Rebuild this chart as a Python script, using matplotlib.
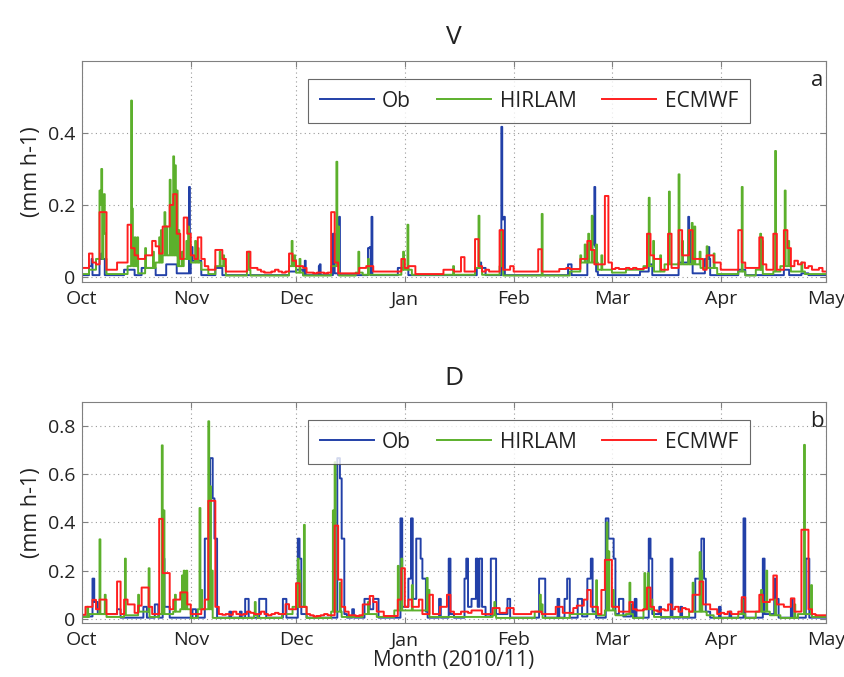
"""Two-panel precipitation series, Oct 2010 - May 2011: observations vs HIRLAM and ECMWF."""

import matplotlib
matplotlib.use("Agg")
import matplotlib.pyplot as plt
import numpy as np

plt.rcParams["font.family"] = ["Open Sans", "DejaVu Sans"]

N_DAYS = 212
STEP = 0.25  # 6-hourly

month_days = [0, 31, 61, 92, 123, 151, 182, 212]
month_labels = ["Oct", "Nov", "Dec", "Jan", "Feb", "Mar", "Apr", "May"]

# ---- panel a (V) ----
ecmwf_v = [
    .025, .025, .065, .04, .035, .18, .18, .02, .02, .02,
    .04, .04, .04, .145, .08, .06, .05, .05, .06, .06,
    .10, .085, .065, .14, .14, .20, .23, .12, .05, .165,
    .12, .06, .05, .11, .05, .03, .02, .02, .075, .075,
    .05, .015, .015, .015, .015, .015, .015, .07, .025, .025,
    .02, .015, .012, .012, .015, .02, .015, .012, .015, .065,
    .045, .03, .03, .025, .012, .012, .01, .012, .012, .01,
    .012, .18, .04, .01, .01, .01, .01, .01, .01, .025,
    .025, .03, .03, .015, .015, .015, .015, .015, .015, .015,
    .015, .05, .025, .03, .03, .008, .008, .008, .008, .008,
    .008, .008, .008, .02, .02, .02, .015, .015, .055, .015,
    .015, .015, .105, .03, .015, .02, .015, .015, .015, .13,
    .02, .02, .03, .015, .015, .015, .015, .015, .015, .015,
    .077, .015, .015, .015, .015, .015, .022, .022, .025, .022,
    .022, .022, .05, .05, .10, .075, .035, .035, .035, .225,
    .04, .022, .025, .022, .022, .025, .022, .025, .022, .022,
    .025, .12, .06, .05, .05, .02, .02, .12, .025, .025,
    .13, .06, .06, .13, .05, .05, .05, .02, .06, .06,
    .04, .04, .02, .02, .02, .02, .02, .13, .04, .025,
    .025, .025, .025, .11, .035, .02, .02, .12, .02, .02,
    .13, .08, .03, .045, .035, .04, .025, .03, .02, .02,
    .025, .015,
]

ob_v_levels = [
    (0, .005), (2, .03), (3, .005), (5, .05), (6.5, .005), (12, .02), (15, .005),
    (17, .025), (21, .005), (24, .035), (27, .01), (31, .045), (34, .005),
    (38, .025), (40, .005), (59, .015), (61, .02), (63, .005), (67.5, .03),
    (68, .005), (71.5, .12), (72, .01), (73, .005), (81.5, .08), (82, .005),
    (90, .025), (93, .005), (112.5, .025), (115, .005), (119.5, .16),
    (120.5, .005), (138.5, .035), (139.5, .005), (144, .09), (146, .015),
    (147, .005), (159, .015), (161.5, .035), (162.5, .005), (170, .04),
    (174, .01), (177.5, .05), (179, .005), (187, .02), (189, .005),
    (200, .02), (201.5, .005), (205, .01), (207, .005),
]
ob_v_spikes = [
    (2.8, .05), (5.6, .065), (30.5, .25), (31.2, .083), (63.5, .045),
    (67.8, .035), (73.3, .167), (82.0, .083), (82.5, .167), (113.4, .04),
    (119.6, .417), (120.2, .167), (145.5, .167), (145.9, .25), (146.2, .083),
    (172.7, .167), (173.2, .125), (178.4, .083),
]

hirlam_v_levels = [
    (0, .008), (2, .02), (4, .05), (7, .008), (13, .03), (16, .01), (18, .025),
    (21, .04), (23, .06), (27, .03), (29, .05), (31, .04), (34, .02), (36, .008),
    (38, .03), (41, .004), (47, .02), (48, .004), (59, .03), (61, .012),
    (63, .004), (71, .03), (73, .004), (78, .012), (80, .006), (91, .02),
    (94, .006), (112, .025), (114, .006), (119, .03), (120, .004), (139, .015),
    (142, .04), (147, .02), (151, .012), (155, .02), (160, .03), (163, .015),
    (166, .035), (176, .025), (181, .008), (187, .015), (189, .004), (192, .02),
    (194, .008), (197, .015), (199, .03), (202, .015), (206, .008),
]
hirlam_v_spikes = [
    (4.9, .24), (5.3, .2), (5.6, .30), (6.0, .22), (6.3, .23), (6.6, .12),
    (13.9, .49), (14.3, .19), (15.1, .11), (15.8, .11), (18.0, .08),
    (20.3, .07), (22.0, .11), (22.4, .13), (23.6, .18), (24.1, .14),
    (25.1, .27), (25.5, .2), (26.0, .335), (26.5, .31), (27.0, .24),
    (27.4, .13), (28.4, .07), (29.8, .1), (30.3, .14), (30.8, .09),
    (32.2, .1), (33.0, .08), (39.3, .07), (40.3, .06), (47.4, .07),
    (59.7, .1), (60.5, .06), (62.1, .05), (72.4, .32), (73.0, .14),
    (78.7, .07), (81.6, .05), (91.5, .07), (92.8, .145), (105.8, .03),
    (112.9, .17), (119.6, .13), (131.0, .175), (141.9, .06), (143.3, .09),
    (144.3, .12), (145.2, .17), (146.6, .09), (148.0, .06), (161.4, .22),
    (162.8, .1), (164.7, .06), (167.3, .237), (170.1, .285), (170.9, .1),
    (172.7, .13), (173.7, .15), (174.6, .14), (176.1, .07), (178.0, .085),
    (179.9, .065), (188.0, .25), (193.2, .12), (193.8, .1), (197.4, .35),
    (200.3, .24), (201.2, .1), (205.0, .04),
]

# ---- panel b (D) ----
ecmwf_d = [
    .017, .05, .05, .079, .04, .08, .08, .02, .02, .02,
    .155, .02, .08, .06, .06, .025, .055, .13, .13, .05,
    .02, .02, .415, .19, .19, .04, .08, .08, .11, .11,
    .06, .02, .02, .02, .04, .08, .49, .49, .05, .02,
    .017, .02, .017, .03, .02, .017, .02, .03, .025, .02,
    .02, .03, .02, .015, .02, .025, .02, .02, .061, .04,
    .04, .148, .05, .05, .02, .015, .01, .012, .015, .02,
    .015, .015, .387, .163, .05, .03, .015, .015, .012, .015,
    .06, .06, .095, .07, .03, .03, .012, .012, .012, .012,
    .08, .21, .05, .08, .05, .05, .08, .02, .02, .1,
    .02, .02, .05, .05, .1, .03, .02, .02, .03, .03,
    .025, .035, .035, .035, .02, .02, .02, .045, .045, .025,
    .025, .045, .045, .02, .02, .02, .02, .02, .03, .03,
    .03, .02, .02, .02, .02, .05, .05, .025, .025, .025,
    .045, .055, .055, .08, .12, .05, .05, .02, .12, .245,
    .245, .05, .05, .03, .03, .03, .07, .04, .035, .035,
    .04, .13, .05, .035, .03, .04, .035, .06, .04, .05,
    .03, .045, .04, .03, .1, .1, .155, .06, .06, .04,
    .04, .02, .025, .02, .03, .02, .02, .03, .09, .03,
    .03, .03, .03, .1, .07, .07, .08, .18, .06, .06,
    .05, .05, .085, .03, .03, .37, .37, .04, .02, .015,
    .015, .015,
]

ob_d_levels = [
    (0, .01), (3, .167), (3.5, .07), (4.5, .02), (10, .04), (11, .005),
    (17.5, .05), (18.5, .005), (20.75, .06), (21.75, .005), (23, .25),
    (23.5, .05), (25, .005), (31.5, .04), (32.5, .005), (35, .333),
    (36.5, .667), (37.25, .5), (37.75, .333), (38.5, .005), (42, .03),
    (42.5, .005), (45, .03), (45.5, .005), (46.5, .083), (47.5, .005),
    (50.5, .083), (52.5, .005), (57.25, .083), (58.25, .005), (61.5, .333),
    (62, .25), (62.5, .02), (64, .005), (72.75, .667), (73.5, .583),
    (74, .333), (74.75, .02), (75.5, .005), (77, .04), (77.5, .005),
    (80.5, .083), (82, .04), (83, .083), (84.5, .005), (90.75, .417),
    (91.25, .05), (93, .167), (93.75, .417), (94.25, .083), (95.25, .333),
    (96.5, .25), (97, .167), (98, .03), (98.5, .005), (101.75, .083),
    (102.25, .005), (104.5, .25), (105, .02), (106, .005), (109, .167),
    (109.5, .25), (110, .05), (111, .083), (112.25, .25), (112.75, .05),
    (113.25, .25), (114, .05), (115, .01), (116.5, .25), (118, .02),
    (121.25, .083), (122, .005), (130.25, .167), (132, .005), (135.5, .083),
    (136, .005), (137.5, .083), (138.25, .167), (139, .005), (141.25, .083),
    (142.5, .01), (144, .167), (145, .25), (145.5, .03), (146.5, .005),
    (149.25, .417), (150, .333), (151.5, .25), (152, .02), (153, .083),
    (154.25, .01), (156.5, .06), (157, .005), (157.5, .083), (158, .005),
    (161.5, .333), (162, .25), (162.5, .02), (164.5, .05), (165, .005),
    (167.75, .25), (168.25, .005), (170.5, .05), (171, .005), (174.75, .167),
    (176.5, .333), (177.25, .167), (177.75, .03), (179, .005), (181.5, .05),
    (182, .005), (184.5, .03), (185, .005), (188.5, .417), (189, .005),
    (194, .25), (194.5, .02), (197.25, .167), (197.75, .083), (198.5, .005),
    (202, .083), (202.5, .005), (206.25, .25), (207.25, .005),
]

hirlam_d_levels = [
    (0, .008), (2, .02), (7, .008), (12, .015), (16, .03), (19, .008), (22, .02),
    (26, .03), (28, .04), (31, .004), (33, .04), (37, .004), (49, .015),
    (50, .004), (57, .02), (60, .05), (64, .004), (71, .03), (74, .008),
    (80, .02), (84, .008), (89, .035), (99, .008), (117, .015), (118, .004),
    (129, .03), (131, .004), (139, .02), (147, .015), (149, .035), (152, .015),
    (155, .02), (157, .004), (160, .04), (163, .008), (173, .03), (178, .015),
    (180, .004), (187, .02), (189, .004), (192, .03), (196, .015), (199, .004),
    (204, .02), (208, .008),
]
hirlam_d_spikes = [
    (1.5, .05), (5.1, .33), (6.6, .1), (12.2, .25), (16.0, .1), (18.9, .21),
    (22.7, .72), (23.2, .45), (26.5, .1), (28.4, .18), (28.9, .2), (29.8, .2),
    (33.6, .46), (34.1, .12), (36.0, .82), (36.5, .55), (37.0, .2), (49.3, .07),
    (61.6, .25), (62.1, .2), (63.3, .39), (71.6, .45), (72.1, .65), (73.5, .15),
    (81.5, .07), (90.1, .22), (91.0, .25), (93.9, .14), (98.2, .17),
    (98.7, .12), (117.6, .07), (130.4, .1), (130.9, .06), (146.6, .16),
    (149.4, .4), (149.9, .28), (151.3, .12), (156.1, .15), (160.3, .19),
    (161.3, .19), (162.2, .08), (174.1, .15), (176.0, .277), (176.5, .2),
    (187.9, .08), (193.6, .12), (195.0, .2), (197.4, .08), (203.0, .06),
    (205.7, .722), (207.8, .14),
]

COLORS = {"Ob": "#2240a8", "HIRLAM": "#5cb02c", "ECMWF": "#ff1e1e"}
GREY = "#808080"
INK = "#222222"


def from_levels(levels, spikes=()):
    t = np.arange(0, N_DAYS, STEP)
    days = np.array([d for d, _ in levels])
    vals = np.array([v for _, v in levels])
    y = vals[np.searchsorted(days, t, side="right") - 1]
    for d, v in spikes:
        i = int(round(d / STEP))
        y[i] = max(y[i], v)
    return t, y


def from_daily(daily):
    t = np.arange(0, N_DAYS, STEP)
    return t, np.repeat(np.array(daily), int(1 / STEP))


def draw(ax, series, ylim, yticks, title, letter):
    for name, (t, y) in series:
        ax.plot(np.append(t, N_DAYS), np.append(y, y[-1]), drawstyle="steps-post",
                color=COLORS[name], lw=1.4, label=name)
    ax.set_xlim(0, N_DAYS)
    ax.set_ylim(*ylim)
    ax.set_xticks(month_days)
    ax.set_xticklabels(month_labels)
    ax.set_yticks(yticks)
    ax.set_yticklabels(["0"] + [f"{v:.1f}" for v in yticks[1:]])
    ax.grid(True, linestyle=(0, (1, 3)), color="#9a9a9a", lw=0.8)
    ax.tick_params(direction="in", top=True, right=True, length=4, color=GREY,
                   labelsize=14, labelcolor=INK)
    ax.tick_params(axis="x", pad=6)
    ax.tick_params(axis="y", pad=5)
    for sp in ax.spines.values():
        sp.set_color(GREY)
    ax.set_title(title, fontsize=19, pad=12, color=INK)
    ax.set_ylabel("(mm h-1)", fontsize=15.5, color=INK, labelpad=4)
    ax.text(0.997, 0.91, letter, transform=ax.transAxes, ha="right", va="center",
            fontsize=16, color=INK)
    leg = ax.legend(loc="upper left", bbox_to_anchor=(0.304, 0.918), ncol=3,
                    fontsize=15, frameon=True, fancybox=False, handlelength=2.6,
                    columnspacing=1.25, handletextpad=0.4, borderpad=0.55,
                    borderaxespad=0)
    leg.get_frame().set_edgecolor("#444444")
    leg.get_frame().set_linewidth(0.8)
    for txt in leg.get_texts():
        txt.set_color(INK)


fig = plt.figure(figsize=(8.45, 6.77), dpi=100)
ax1 = fig.add_axes([0.097, 0.5835, 0.8805, 0.3264])
ax2 = fig.add_axes([0.097, 0.0798, 0.8805, 0.3264])

draw(ax1, [("Ob", from_levels(ob_v_levels, ob_v_spikes)),
           ("HIRLAM", from_levels(hirlam_v_levels, hirlam_v_spikes)),
           ("ECMWF", from_daily(ecmwf_v))],
     (-0.014, 0.6), [0, 0.2, 0.4], "V", "a")
draw(ax2, [("Ob", from_levels(ob_d_levels)),
           ("HIRLAM", from_levels(hirlam_d_levels, hirlam_d_spikes)),
           ("ECMWF", from_daily(ecmwf_d))],
     (-0.017, 0.9), [0, 0.2, 0.4, 0.6, 0.8], "D", "b")
ax2.set_xlabel("Month (2010/11)", fontsize=15, color=INK, labelpad=0.5)

fig.savefig("out.png", dpi=100)
